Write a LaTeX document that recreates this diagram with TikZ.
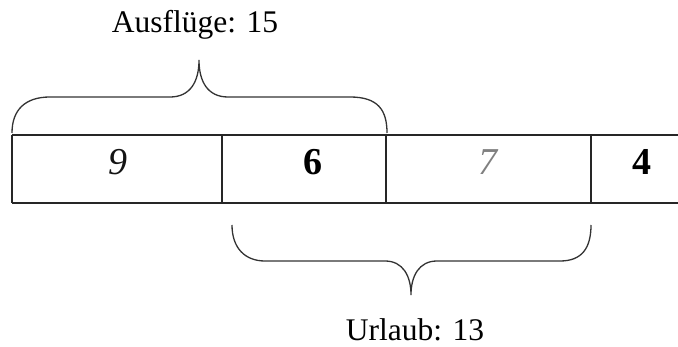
\documentclass[tikz,border=0pt]{standalone}
\usepackage{fontspec}
\setmainfont{Liberation Serif}
\begin{document}
\begin{tikzpicture}[x=1pt,y=-1pt,
  boxline/.style={draw=black!85, line width=1.3pt},
  braceline/.style={draw=black!80, line width=1.3pt},
  label/.style={anchor=base, inner sep=0pt, font=\fontsize{31.5}{36}\selectfont},
  num/.style={anchor=base, inner sep=0pt, font=\fontsize{38}{44}\selectfont}]
\useasboundingbox (0,0) rectangle (678,347);
% bar
\draw[boxline] (12,135) -- (678,135);
\draw[boxline] (12,203) -- (678,203);
\draw[boxline] (12,135) -- (12,203);
\draw[boxline] (222,135) -- (222,203);
\draw[boxline] (386,135) -- (386,203);
\draw[boxline] (591,135) -- (591,203);
% numbers
\node[num, text=black!92] (n9) at (118,175) {\itshape 9};
\node[num] (n6) at (313,175) {\bfseries 6};
\node[num, text=black!50] (n7) at (488,175) {\itshape 7};
\node[num] (n4) at (642,175) {\bfseries 4};
% top brace
\draw[braceline] (12,133) .. controls (12,110) and (25,97) .. (50,97)
  -- (170,97) .. controls (190,97) and (199,82) .. (199,60)
  .. controls (199,82) and (208,97) .. (228,97)
  -- (350,97) .. controls (378,97) and (387,110) .. (387,133);
% bottom brace
\draw[braceline] (232,225) .. controls (232,248) and (245,261) .. (265,261)
  -- (385,261) .. controls (403,261) and (411,276) .. (411,295)
  .. controls (411,276) and (419,261) .. (437,261)
  -- (560,261) .. controls (582,261) and (591,248) .. (591,225);
% labels
\node[label] (top) at (195,33) {Ausflüge: 15};
\node[label] (bot) at (415,341) {Urlaub: 13};
\end{tikzpicture}
\end{document}
